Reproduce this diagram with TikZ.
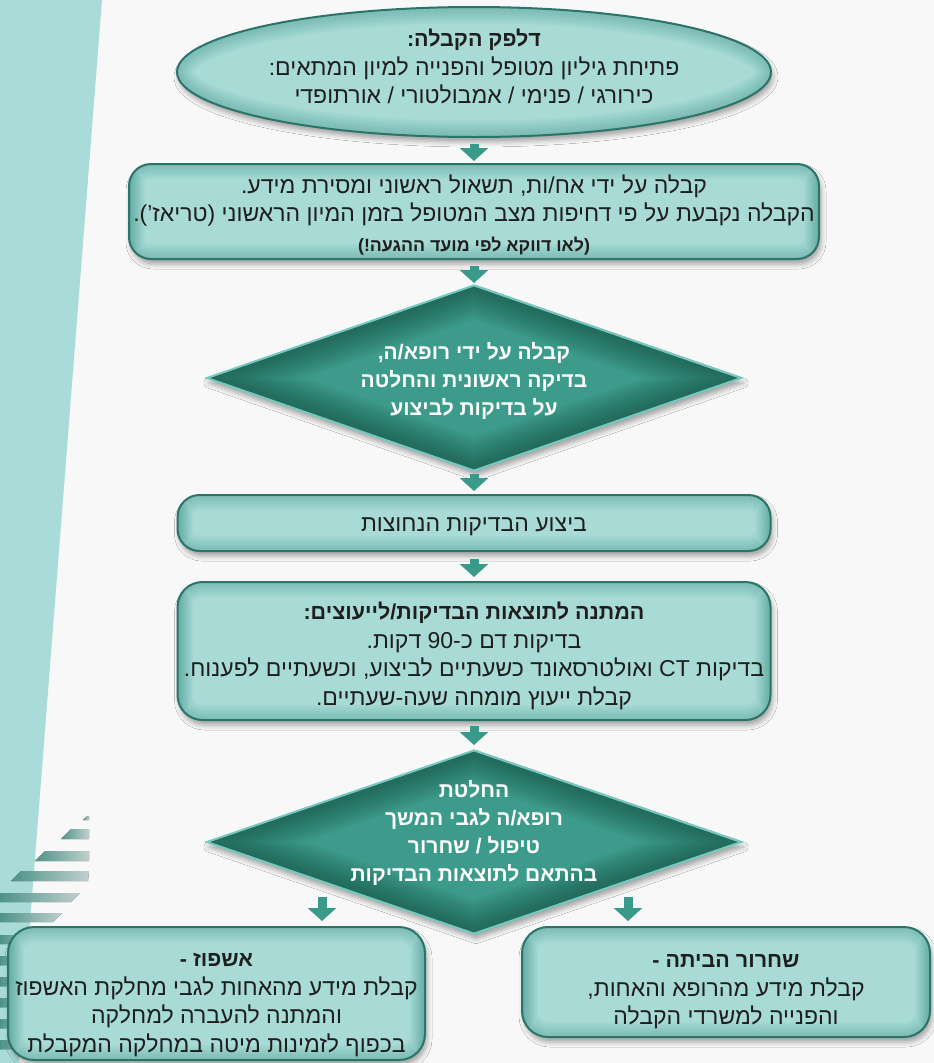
\documentclass[tikz,border=0pt]{standalone}
\usepackage{fontspec}
\setmainfont{Liberation Sans}
\newfontfamily\hebfont[Script=Hebrew]{Liberation Sans}
\TeXXeTstate=1
\usetikzlibrary{arrows.meta,shapes.geometric,shadows.blur,calc}
\newcommand\heb[1]{\beginR #1\endR}
\newcommand\hd[1]{{\fontsize{21.5}{28.5}\selectfont\bfseries\heb{#1}}}
\definecolor{bg}{HTML}{F9F8F9}
\definecolor{band}{HTML}{A9DBD8}
\definecolor{boxfill}{HTML}{A8DAD6}
\definecolor{boxedge}{HTML}{2B7468}
\definecolor{boxglow}{HTML}{3F968A}
\definecolor{dfill}{HTML}{3C9B8B}
\definecolor{dedge}{HTML}{74C9BE}
\definecolor{dglow}{HTML}{0F3F33}
\definecolor{arrc}{HTML}{3A9A8A}
\definecolor{txt}{HTML}{1E1E1E}
\definecolor{stripL}{HTML}{58A79A}
\definecolor{stripR}{HTML}{DCEFEC}
\tikzset{
  soft shadow/.style={blur shadow={shadow xshift=2pt,shadow yshift=-5pt,shadow blur radius=5pt,shadow opacity=35}},
  rbox/.style={rectangle, rounded corners=#1, draw=boxedge, line width=2pt, fill=boxfill,
    soft shadow, inner sep=0pt,
    path picture={
      \foreach \w in {3,6,...,30}{
        \draw[rounded corners=#1, line width=\w pt, draw=boxglow, opacity=0.045]
          (path picture bounding box.south west) rectangle (path picture bounding box.north east);}
      \fill[left color=boxglow, right color=boxfill, opacity=.6]
          (path picture bounding box.south west) rectangle ([xshift=16pt]path picture bounding box.north west);
      \fill[left color=boxfill, right color=boxglow, opacity=.6]
          ([xshift=-16pt]path picture bounding box.south east) rectangle (path picture bounding box.north east);
    }},
  ellbox/.style={ellipse, draw=boxedge, line width=2pt, fill=boxfill, soft shadow,
    minimum width=594pt, minimum height=130pt, inner sep=0pt,
    path picture={
      \foreach \w in {3,6,...,33}{
        \draw[line width=\w pt, draw=boxglow, opacity=0.045]
          (path picture bounding box.center) ellipse [x radius=297pt, y radius=65pt];}
    }},
  dia/.style={diamond, draw=dedge, line width=2pt, fill=dfill, soft shadow,
    minimum width=535pt, minimum height=186pt, inner sep=0pt,
    path picture={
      \foreach \w in {4,8,...,64}{
        \draw[line width=\w pt, draw=dglow, opacity=0.04, line join=round]
          (path picture bounding box.north) -- (path picture bounding box.east) --
          (path picture bounding box.south) -- (path picture bounding box.west) -- cycle;}
    }},
  txtd/.style={text=txt, font=\hebfont\fontsize{23}{28.5}\selectfont, align=center, inner sep=0pt},
  txtw/.style={text=white, font=\hebfont\bfseries\fontsize{21}{28}\selectfont, align=center, inner sep=0pt},
  barrow/.style={draw=arrc, line width=9pt, -{Triangle[width=28pt,length=13pt]}},
  stripe/.style={left color=stripL, right color=stripR, opacity=.85}
}
\begin{document}
\begin{tikzpicture}[x=1pt,y=-1pt]
\useasboundingbox (0,0) rectangle (934,1063);
\fill[bg] (0,0) rectangle (934,1063);
\fill[band] (0,0) -- (102,0) -- (19,1063) -- (0,1063) -- cycle;
% stripes
\fill[stripe] (87,816) -- (89,816) -- (89,820) -- (83,820) -- cycle;
\fill[stripe] (71,829) -- (89,829) -- (89,839) -- (61,839) -- cycle;
\fill[stripe] (45,851) -- (89,851) -- (89,861) -- (35,861) -- cycle;
\fill[stripe] (21,871) -- (89,871) -- (88,881) -- (11,881) -- cycle;
\fill[stripe] (0,893) -- (80,893) -- (71,902) -- (0,902) -- cycle;
\fill[stripe] (0,913) -- (62,913) -- (53,922) -- (0,922) -- cycle;
\fill[stripe] (0,935) -- (40,935) -- (32,944) -- (0,944) -- cycle;
\foreach \t in {956,977,998,1019,1040}{
  \fill[stripe] (0,\t) -- (30,\t) -- (30,\t+9) -- (0,\t+9) -- cycle;}

% shapes
\node[ellbox] (ell) at (474,72) {};
\node[rbox=22pt, minimum width=690pt, minimum height=95pt] (b2) at (474,211.5) {};
\node[dia] (d1) at (474,378) {};
\node[rbox=22pt, minimum width=593pt, minimum height=56pt] (b3) at (474,523) {};
\node[rbox=25pt, minimum width=593pt, minimum height=138pt] (b4) at (474,651) {};
\node[dia, minimum height=184pt] (d2) at (474,842) {};
\node[rbox=26pt, minimum width=417pt, minimum height=133pt] (b6) at (216.5,993.5) {};
\node[rbox=26pt, minimum width=408pt, minimum height=110pt] (b7) at (726,982) {};

% texts
\node[txtd] (ellt) at (474,67) {\hd{דלפק הקבלה:}\\
  \heb{פתיחת גיליון מטופל והפנייה למיון המתאים:}\\
  \heb{כירורגי / פנימי / אמבולטורי / אורתופדי}};
\node[txtd] (b2t) at (474,214.5)
  {\heb{קבלה על ידי אח/ות, תשאול ראשוני ומסירת מידע.}\\
   \heb{הקבלה נקבעת על פי דחיפות מצב המטופל בזמן המיון הראשוני (טריאז’).}\\[1pt]
   {\fontsize{17.8}{20}\selectfont\bfseries\heb{(לאו דווקא לפי מועד ההגעה!)}}};
\node[txtw] (d1t) at (474,381) {\heb{קבלה על ידי רופא/ה,}\\
  \heb{בדיקה ראשונית והחלטה}\\ \heb{על בדיקות לביצוע}};
\node[txtd] (b3t) at (474,527) {\heb{ביצוע הבדיקות הנחוצות}};
\node[txtd] (b4t) at (474,656)
  {\hd{המתנה לתוצאות הבדיקות/לייעוצים:}\\
   \heb{בדיקות דם כ-90 דקות.}\\
   \heb{בדיקות CT ואולטרסאונד כשעתיים לביצוע, וכשעתיים לפענוח.}\\
   \heb{קבלת ייעוץ מומחה שעה-שעתיים.}};
\node[txtw] (d2t) at (474,833) {\heb{החלטת}\\ \heb{רופא/ה לגבי המשך}\\
  \heb{טיפול / שחרור}\\ \heb{בהתאם לתוצאות הבדיקות}};
\node[txtd] (b6t) at (216.5,1005)
  {\hd{אשפוז -}\\
   \heb{קבלת מידע מהאחות לגבי מחלקת האשפוז}\\
   \heb{והמתנה להעברה למחלקה}\\
   \heb{בכפוף לזמינות מיטה במחלקה המקבלת}};
\node[txtd] (b7t) at (726,992)
  {\hd{שחרור הביתה -}\\
   \heb{קבלת מידע מהרופא והאחות,}\\
   \heb{והפנייה למשרדי הקבלה}};

% connectors
\draw[barrow, shorten <=6pt, shorten >=2pt] (ell) -- (b2);
\draw[barrow, shorten <=6pt, shorten >=1pt] (b2) -- (d1);
\draw[barrow, shorten <=2pt, shorten >=3pt] (d1) -- (b3);
\draw[barrow, shorten <=7pt, shorten >=4pt] (b3) -- (b4);
\draw[barrow, shorten <=5pt, shorten >=4pt] (b4) -- (d2);
\coordinate (dl) at (322,897);
\coordinate (dr) at (628,897);
\draw[barrow, shorten >=5pt] (dl) -- (dl |- b6.north);
\draw[barrow, shorten >=5pt] (dr) -- (dr |- b7.north);
\end{tikzpicture}
\end{document}
